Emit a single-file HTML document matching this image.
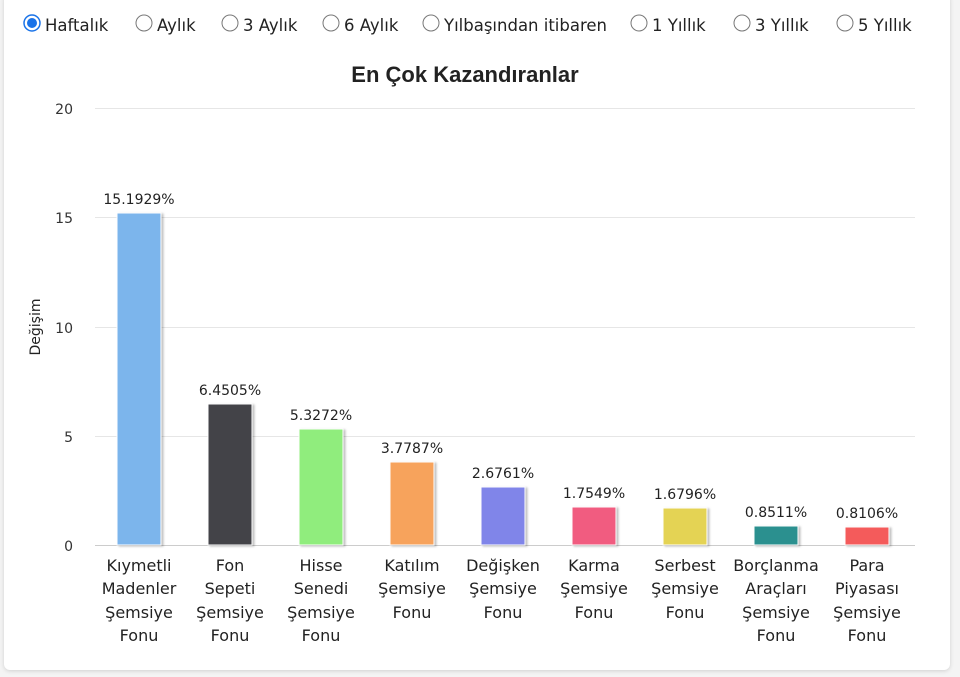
<!DOCTYPE html>
<html><head><meta charset="utf-8"><style>
body{margin:0;background:#f4f4f4;width:960px;height:677px;overflow:hidden;font-family:"DejaVu Sans","Liberation Sans",sans-serif}
.card{position:absolute;left:4px;top:-6px;width:946px;height:676px;background:#fff;border-radius:6px;box-shadow:0 1px 4px rgba(0,0,0,.15)}
</style></head><body>
<div class="card"></div>
<svg width="960" height="677" style="position:absolute;left:0;top:0" font-family="DejaVu Sans, Liberation Sans, sans-serif">
<g font-size="16.5" fill="#222">
<circle cx="32" cy="23" r="8" fill="#fff" stroke="#1a73e8" stroke-width="1.5"/><circle cx="32" cy="23" r="5" fill="#1a73e8"/>
<text x="45" y="31">Haftalık</text>
<circle cx="144" cy="23" r="8" fill="#fff" stroke="#777"/><text x="157" y="31">Aylık</text>
<circle cx="230" cy="23" r="8" fill="#fff" stroke="#777"/><text x="243" y="31">3 Aylık</text>
<circle cx="331" cy="23" r="8" fill="#fff" stroke="#777"/><text x="344" y="31">6 Aylık</text>
<circle cx="431" cy="23" r="8" fill="#fff" stroke="#777"/><text x="444" y="31">Yılbaşından itibaren</text>
<circle cx="639" cy="23" r="8" fill="#fff" stroke="#777"/><text x="652" y="31">1 Yıllık</text>
<circle cx="742" cy="23" r="8" fill="#fff" stroke="#777"/><text x="755" y="31">3 Yıllık</text>
<circle cx="845" cy="23" r="8" fill="#fff" stroke="#777"/><text x="858" y="31">5 Yıllık</text>
</g>
<text x="465" y="82" text-anchor="middle" font-family="Liberation Sans, sans-serif" font-weight="bold" font-size="22" fill="#222">En Çok Kazandıranlar</text>
<g stroke="#e6e6e6" stroke-width="1">
<line x1="95" x2="915" y1="108.5" y2="108.5"/><line x1="95" x2="915" y1="217.5" y2="217.5"/>
<line x1="95" x2="915" y1="327.5" y2="327.5"/><line x1="95" x2="915" y1="436.5" y2="436.5"/>
</g>
<line x1="95" x2="915" y1="545.5" y2="545.5" stroke="#ccc"/>
<g font-size="14" fill="#333" text-anchor="end">
<text x="73" y="114">20</text><text x="73" y="223">15</text><text x="73" y="333">10</text><text x="73" y="442">5</text><text x="73" y="551">0</text>
</g>
<text transform="translate(40,327) rotate(-90)" text-anchor="middle" font-size="14" fill="#222">Değişim</text>
<g stroke="#fff" stroke-width="1" style="filter:drop-shadow(2px 1px 1px rgba(0,0,0,.25))">
<rect x="117" y="213" width="44" height="332" fill="#7cb5ec"/>
<rect x="208" y="404" width="44" height="141" fill="#434348"/>
<rect x="299" y="429" width="44" height="116" fill="#90ed7d"/>
<rect x="390" y="462" width="44" height="83" fill="#f7a35c"/>
<rect x="481" y="487" width="44" height="58" fill="#8085e9"/>
<rect x="572" y="507" width="44" height="38" fill="#f15c80"/>
<rect x="663" y="508" width="44" height="37" fill="#e4d354"/>
<rect x="754" y="526" width="44" height="19" fill="#2b908f"/>
<rect x="845" y="527" width="44" height="18" fill="#f45b5b"/>
</g>
<g font-size="14" fill="#222" text-anchor="middle">
<text x="139" y="204">15.1929%</text><text x="230" y="395">6.4505%</text><text x="321" y="420">5.3272%</text>
<text x="412" y="453">3.7787%</text><text x="503" y="478">2.6761%</text><text x="594" y="498">1.7549%</text>
<text x="685" y="499">1.6796%</text><text x="776" y="517">0.8511%</text><text x="867" y="518">0.8106%</text>
</g>
<g font-size="16" fill="#222" text-anchor="middle">
<text x="139" y="571">Kıymetli</text><text x="139" y="594">Madenler</text><text x="139" y="618">Şemsiye</text><text x="139" y="641">Fonu</text>
<text x="230" y="571">Fon</text><text x="230" y="594">Sepeti</text><text x="230" y="618">Şemsiye</text><text x="230" y="641">Fonu</text>
<text x="321" y="571">Hisse</text><text x="321" y="594">Senedi</text><text x="321" y="618">Şemsiye</text><text x="321" y="641">Fonu</text>
<text x="412" y="571">Katılım</text><text x="412" y="594">Şemsiye</text><text x="412" y="618">Fonu</text>
<text x="503" y="571">Değişken</text><text x="503" y="594">Şemsiye</text><text x="503" y="618">Fonu</text>
<text x="594" y="571">Karma</text><text x="594" y="594">Şemsiye</text><text x="594" y="618">Fonu</text>
<text x="685" y="571">Serbest</text><text x="685" y="594">Şemsiye</text><text x="685" y="618">Fonu</text>
<text x="776" y="571">Borçlanma</text><text x="776" y="594">Araçları</text><text x="776" y="618">Şemsiye</text><text x="776" y="641">Fonu</text>
<text x="867" y="571">Para</text><text x="867" y="594">Piyasası</text><text x="867" y="618">Şemsiye</text><text x="867" y="641">Fonu</text>
</g>
</svg>
</body></html>
